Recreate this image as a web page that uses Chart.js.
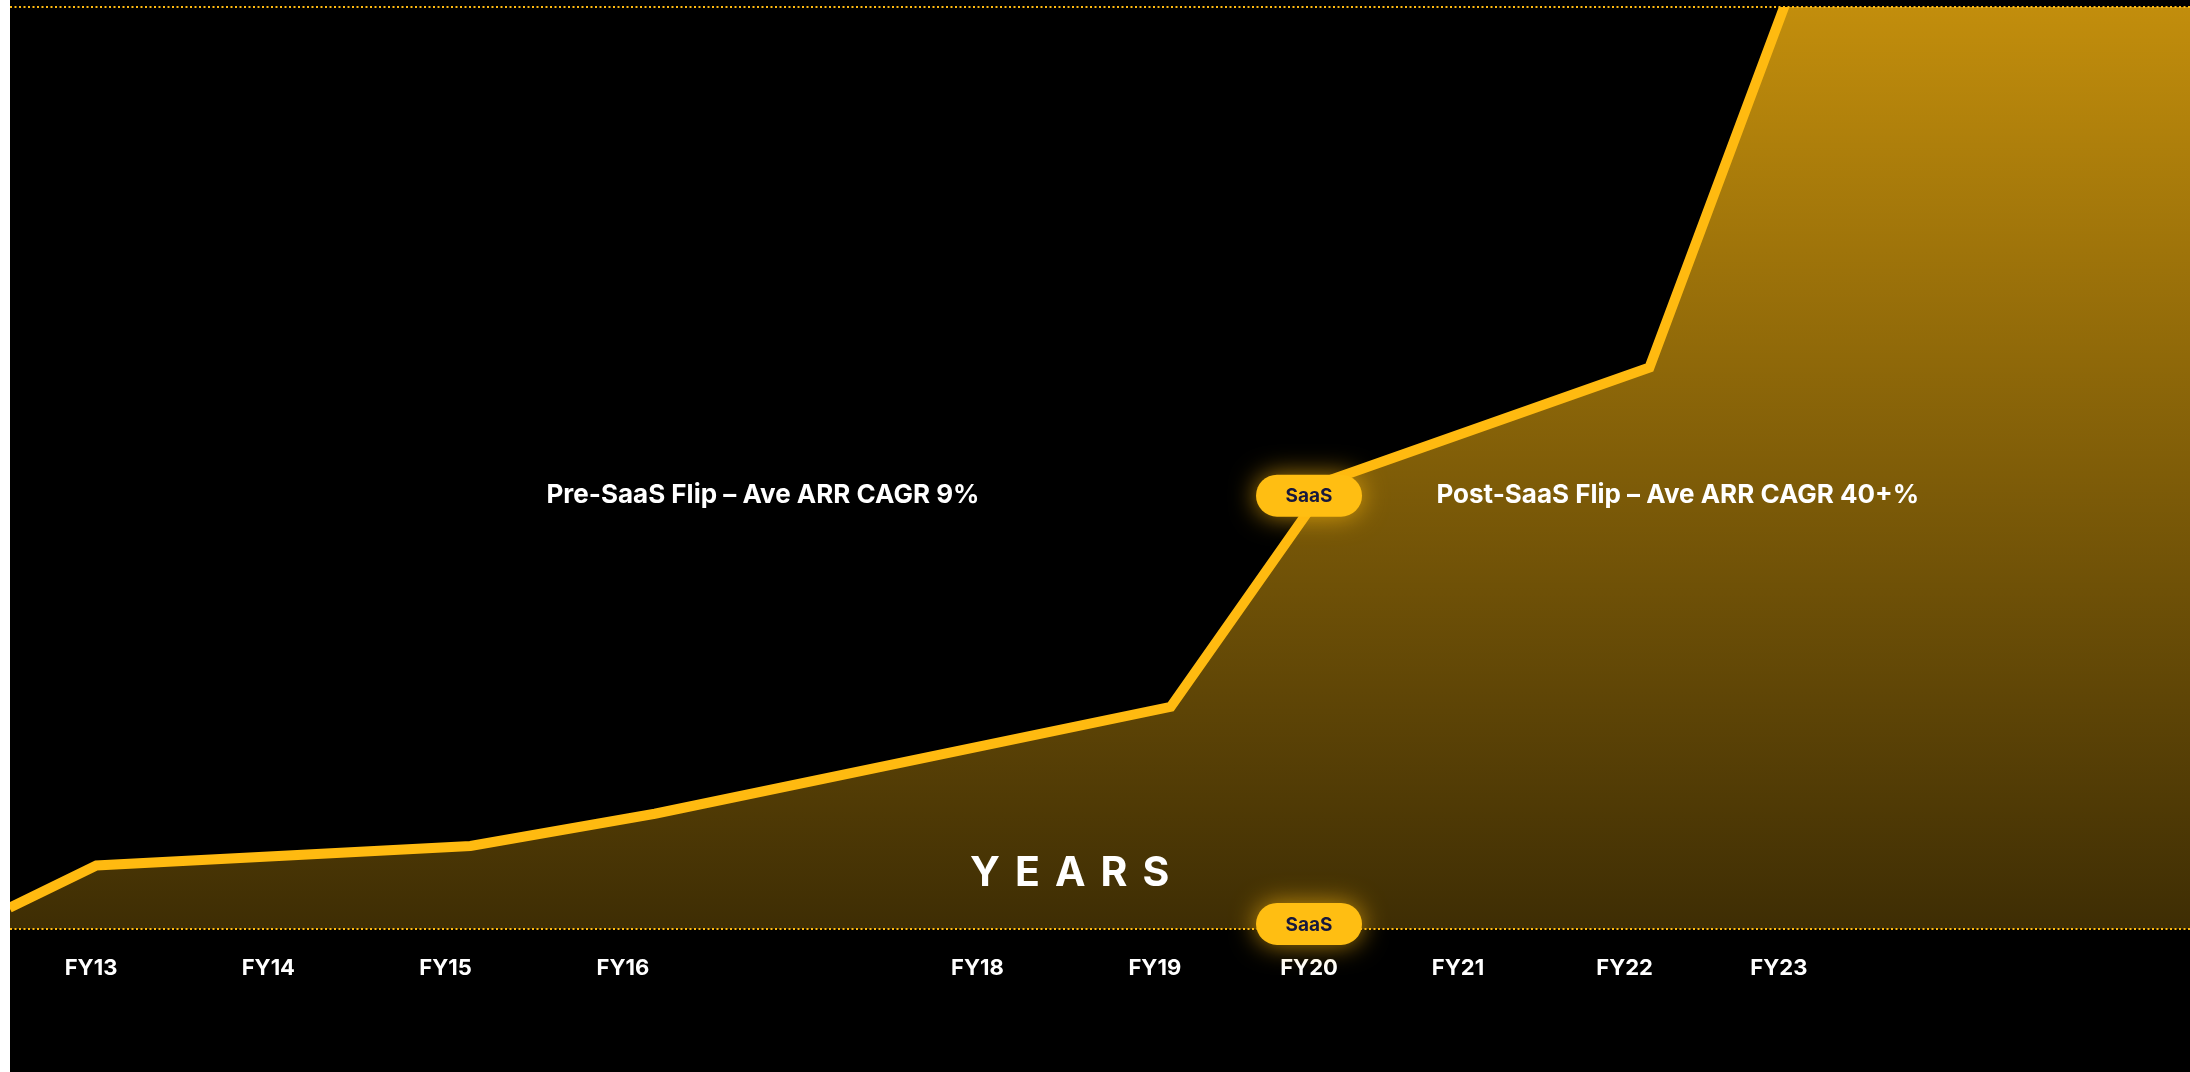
<!DOCTYPE html>
<html>
<head>
<meta charset="utf-8">
<script src="https://cdn.jsdelivr.net/npm/chart.js@4.4.1/dist/chart.umd.min.js"></script>
<style>
  html, body { margin: 0; padding: 0; background: #fff; }
  #wrap { position: absolute; left: 10px; top: 0; width: 2180px; height: 1072px; background: #000; }
</style>
</head>
<body>
<div id="wrap"><canvas id="arrChart"></canvas></div>
<script>
// fiscal year axis labels and where they sit on the year scale
const fyLabels = ['FY13', 'FY14', 'FY15', 'FY16', 'FY18', 'FY19', 'FY20', 'FY21', 'FY22', 'FY23'];
const fyTickAt = [13, 14, 15, 16, 18, 19, 19.87, 20.71, 21.65, 22.52];

// ARR curve (indexed, 100 = top of the plot)
const arrYear  = [12.54, 13.03, 15.14, 16.18, 19.09, 19.99, 21.79, 22.81, 24.84];
const arrIndex = [2.3, 6.9, 9.0, 12.5, 24.1, 48.7, 60.9, 113.4, 113.4];

const phaseNotes = ['Pre-SaaS Flip – Ave ARR CAGR 9%', 'Post-SaaS Flip – Ave ARR CAGR 40+%'];

const X_MIN = 12.543, X_MAX = 24.839;
const GOLD = '#ffba10';

const overlay = {
  id: 'overlay',
  afterDatasetsDraw(chart) {
    const { ctx, chartArea: a, scales: { x, y } } = chart;
    ctx.save();

    // dotted guides along the top and the baseline
    ctx.strokeStyle = GOLD;
    ctx.lineWidth = 2;
    ctx.setLineDash([2, 2.5]);
    [y.max, y.min].forEach(v => {
      const py = y.getPixelForValue(v);
      ctx.beginPath();
      ctx.moveTo(a.left, py);
      ctx.lineTo(a.right, py);
      ctx.stroke();
    });
    ctx.setLineDash([]);

    // phase notes
    ctx.fillStyle = '#fff';
    ctx.textAlign = 'center';
    ctx.textBaseline = 'middle';
    ctx.font = '700 26px Inter';
    ctx.fillText(phaseNotes[0], x.getPixelForValue(16.79), y.getPixelForValue(47.0));
    ctx.fillText(phaseNotes[1], x.getPixelForValue(21.95), y.getPixelForValue(47.0));

    // spaced-out "YEARS" caption
    ctx.font = '700 41px Inter';
    ctx.textAlign = 'left';
    const word = 'YEARS', gap = 15;
    let w = -gap;
    for (const ch of word) w += ctx.measureText(ch).width + gap;
    let px = x.getPixelForValue(18.52) - w / 2;
    const py = y.getPixelForValue(6.0);
    for (const ch of word) {
      ctx.fillText(ch, px, py);
      px += ctx.measureText(ch).width + gap;
    }

    // SaaS switch markers
    const drawPill = (cx, cy) => {
      const pw = 106, ph = 42;
      ctx.save();
      ctx.shadowColor = 'rgba(255,186,16,0.7)';
      ctx.shadowBlur = 26;
      ctx.fillStyle = '#ffbe12';
      ctx.beginPath();
      ctx.roundRect(cx - pw / 2, cy - ph / 2, pw, ph, ph / 2);
      ctx.fill();
      ctx.restore();
      ctx.fillStyle = '#16173d';
      ctx.font = '700 19px Inter';
      ctx.textAlign = 'center';
      ctx.fillText('SaaS', cx, cy + 1);
    };
    const sx = x.getPixelForValue(fyTickAt[6]);
    drawPill(sx, y.getPixelForValue(47.0));
    drawPill(sx, y.getPixelForValue(0.55));

    ctx.restore();
  }
};

new Chart(document.getElementById('arrChart'), {
  type: 'line',
  data: {
    datasets: [{
      data: arrYear.map((v, i) => ({ x: v, y: arrIndex[i] })),
      borderColor: GOLD,
      borderWidth: 10,
      borderJoinStyle: 'miter',
      pointRadius: 0,
      tension: 0,
      clip: 0,
      fill: 'origin',
      backgroundColor(context) {
        const a = context.chart.chartArea;
        if (!a) return 'rgba(255,186,16,0.5)';
        const g = context.chart.ctx.createLinearGradient(0, a.top, 0, a.bottom);
        g.addColorStop(0, 'rgba(255,186,16,0.76)');
        g.addColorStop(1, 'rgba(255,186,16,0.245)');
        return g;
      }
    }]
  },
  options: {
    responsive: true,
    maintainAspectRatio: false,
    animation: false,
    layout: { padding: { top: 7, left: 0, right: 0, bottom: 0 } },
    scales: {
      x: {
        type: 'linear',
        min: X_MIN,
        max: X_MAX,
        grid: { display: false, drawTicks: false },
        border: { display: false },
        afterBuildTicks(scale) {
          scale.ticks = fyTickAt.map(v => ({ value: v }));
        },
        afterFit(scale) {
          scale.height = 143;
        },
        ticks: {
          autoSkip: false,
          maxRotation: 0,
          padding: 26,
          color: '#fff',
          font: { family: 'Inter', size: 22, weight: '700' },
          callback: (v, i) => fyLabels[i]
        }
      },
      y: {
        min: 0,
        max: 100,
        display: false
      }
    },
    plugins: {
      legend: { display: false },
      tooltip: { enabled: false }
    }
  },
  plugins: [overlay]
});
</script>
</body>
</html>
